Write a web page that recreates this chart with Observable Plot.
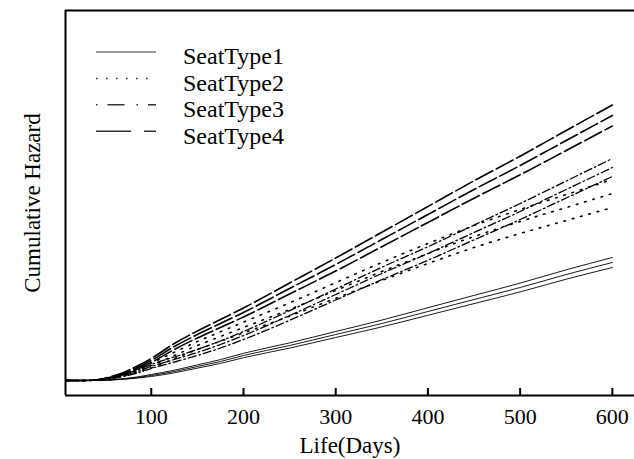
<!DOCTYPE html>
<html><head><meta charset="utf-8">
<script src="https://cdn.jsdelivr.net/npm/d3@7"></script>
<script src="https://cdn.jsdelivr.net/npm/@observablehq/plot@0.6"></script>
<style>
body{margin:0;background:#fff}
#chart{position:relative;width:634px;height:459px}
#chart svg{display:block}
#chart text{font-family:'Liberation Serif','Times New Roman',serif !important}
</style></head><body><div id="chart"></div>
<script>
const days = [8, 25, 40, 55, 70, 85, 100, 125, 150, 175, 200, 250, 300, 350, 400, 450, 500, 550, 600];
const seriesNames = ["SeatType1", "SeatType2", "SeatType3", "SeatType4"];

const st1Lower = [0,0,0,0.005,0.012,0.024,0.04,0.077,0.124,0.171,0.228,0.324,0.43,0.536,0.652,0.769,0.886,1.013,1.13];
const st1Est   = [0,0,0,0.005,0.015,0.03,0.05,0.09,0.14,0.19,0.25,0.35,0.46,0.57,0.69,0.81,0.93,1.06,1.18];
const st1Upper = [0,0,0,0.005,0.018,0.036,0.06,0.103,0.156,0.209,0.272,0.376,0.49,0.604,0.728,0.851,0.974,1.107,1.23];

const st2Lower = [0,0,0.005,0.019,0.048,0.082,0.126,0.218,0.31,0.393,0.476,0.644,0.822,1.0,1.17,1.33,1.47,1.60,1.73];
const st2Est   = [0,0,0.005,0.025,0.06,0.1,0.15,0.25,0.35,0.44,0.53,0.71,0.90,1.09,1.27,1.44,1.59,1.73,1.87];
const st2Upper = [0,0,0.005,0.031,0.072,0.118,0.174,0.282,0.39,0.487,0.584,0.776,0.978,1.18,1.37,1.55,1.71,1.86,2.01];

const st3Lower = [0,0,0.003,0.015,0.04,0.075,0.12,0.185,0.25,0.325,0.41,0.602,0.805,1.008,1.202,1.406,1.61,1.825,2.04];
const st3Est   = [0,0,0.003,0.02,0.05,0.09,0.14,0.21,0.28,0.36,0.45,0.65,0.86,1.07,1.27,1.48,1.69,1.91,2.13];
const st3Upper = [0,0,0.003,0.025,0.06,0.105,0.16,0.235,0.31,0.395,0.49,0.698,0.915,1.132,1.338,1.554,1.77,1.995,2.22];

const st4Lower = [0,0,0.005,0.025,0.06,0.115,0.18,0.31,0.425,0.53,0.635,0.865,1.095,1.338,1.58,1.823,2.057,2.30,2.545];
const st4Est   = [0,0,0.005,0.03,0.07,0.13,0.2,0.34,0.46,0.57,0.68,0.92,1.16,1.41,1.66,1.91,2.15,2.40,2.65];
const st4Upper = [0,0,0.005,0.035,0.08,0.145,0.22,0.37,0.495,0.61,0.725,0.975,1.225,1.482,1.74,1.997,2.243,2.50,2.755];

const xTicks = [100, 200, 300, 400, 500, 600];
const xLabel = "Life(Days)";
const yLabel = "Cumulative Hazard";
const xDomain = [7, 624];
const yDomain = [-0.15, 3.7];

const lineDash = [null, "1.6,7", "8,3,1.6,3", "19,4"];
const lineWidth = [0.9, 1.6, 1.3, 1.6];
const legendDash = [null, "1.5,8.5", "1.5,10,17,12", "35,13"];

const bands = [
  [st1Lower, st1Est, st1Upper],
  [st2Lower, st2Est, st2Upper],
  [st3Lower, st3Est, st3Upper],
  [st4Lower, st4Est, st4Upper]
];
const bandNames = ["lower", "estimate", "upper"];

const seriesRows = bands.map((arrs, si) => {
  const rows = [];
  arrs.forEach((arr, bi) => arr.forEach((v, k) => rows.push({series: seriesNames[si], band: bandNames[bi], day: days[k], value: v})));
  return rows;
});

const font = "'Liberation Serif', 'Times New Roman', serif";

const plot = Plot.plot({
  width: 634, height: 459,
  marginLeft: 65, marginRight: 0, marginTop: 10, marginBottom: 64,
  x: {domain: xDomain, axis: null},
  y: {domain: yDomain, axis: null},
  style: {fontFamily: font, fontSize: "22px", color: "black", background: "white"},
  marks: [
    ...seriesRows.map((rows, i) => Plot.line(rows, {
      x: "day", y: "value", z: "band", stroke: "black",
      strokeWidth: lineWidth[i], strokeDasharray: lineDash[i], curve: "monotone-x"
    })),
    Plot.ruleX([xDomain[0]], {stroke: "black", strokeWidth: 2}),
    Plot.ruleY([yDomain[0]], {stroke: "black", strokeWidth: 2}),
    Plot.ruleY([yDomain[1]], {stroke: "black", strokeWidth: 2}),
    Plot.ruleX(xTicks, {stroke: "black", strokeWidth: 2, insetTop: 378}),
    Plot.text(xTicks, {x: d => d, frameAnchor: "bottom", lineAnchor: "middle", textAnchor: "middle", dy: 21, fontSize: 22, fill: "black"}),
    Plot.text([xLabel], {frameAnchor: "bottom", lineAnchor: "middle", textAnchor: "middle", dy: 50, fontSize: 23, fill: "black"}),
    Plot.text([yLabel], {frameAnchor: "left", lineAnchor: "middle", textAnchor: "middle", rotate: -90, dx: -33, fontSize: 23, fill: "black"})
  ]
});
document.getElementById("chart").appendChild(plot);

// legend overlay
const leg = d3.select("#chart").append("svg")
  .attr("width", 634).attr("height", 459)
  .style("position", "absolute").style("left", "0px").style("top", "0px")
  .style("pointer-events", "none");
seriesNames.forEach((name, i) => {
  const y = 52 + i * 26.4;
  leg.append("line").attr("x1", 96).attr("x2", 156).attr("y1", y).attr("y2", y)
    .attr("stroke", "#333").attr("stroke-width", i === 0 ? 1.2 : 1.5)
    .attr("stroke-dasharray", legendDash[i]);
  leg.append("text").attr("x", 183).attr("y", y + 12.3)
    .style("font-family", font).attr("font-size", 24).attr("fill", "black").text(name);
});
</script></body></html>
